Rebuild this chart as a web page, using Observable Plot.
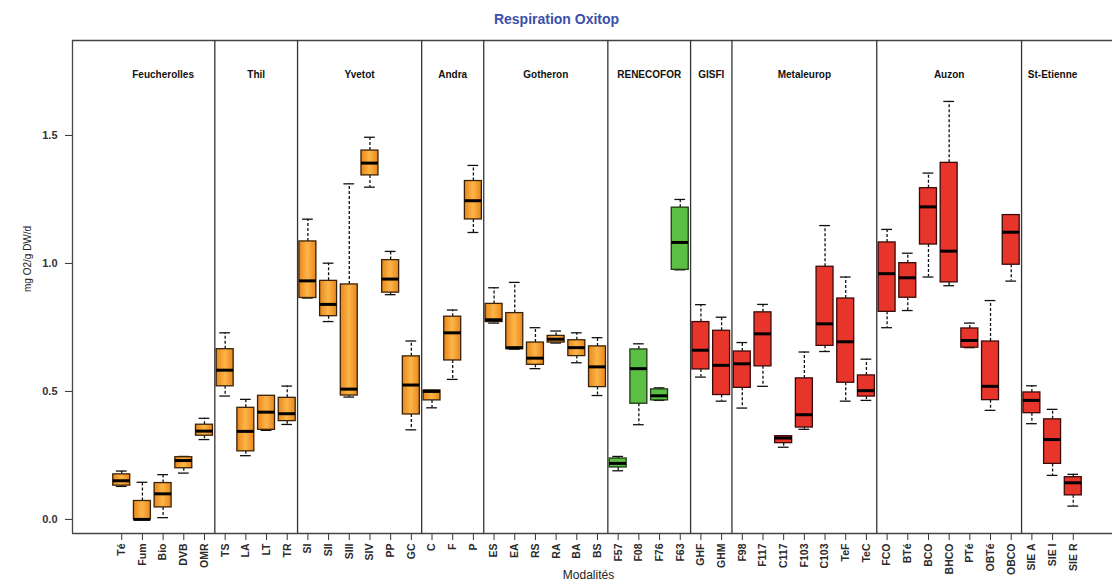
<!DOCTYPE html>
<html><head><meta charset="utf-8">
<script src="https://cdn.jsdelivr.net/npm/d3@7"></script>
<script src="https://cdn.jsdelivr.net/npm/@observablehq/plot@0.6"></script>
<style>body{margin:0;background:#fff;}</style>
</head><body><div id="chart"></div>
<script>
const groups = ["Feucherolles","Thil","Yvetot","Andra","Gotheron","RENECOFOR","GISFI","Metaleurop","Auzon","St-Etienne"];
const groupSizes = [5,4,6,3,6,4,2,7,7,3];
const groupColors = ["orange","orange","orange","orange","orange","green","red","red","red","red"];
const modalites = ["Té","Fum","Bio","DVB","OMR","TS","LA","LT","TR","SI","SII","SIII","SIV","PP","GC","C","F","P","ES","EA","RS","RA","BA","BS","F57","F08","F76","F63","GHF","GHM","F98","F117","C117","F103","C103","TeF","TeC","FCO","BTé","BCO","BHCO","PTé","OBTé","OBCO","SIE A","SIE I","SIE R"];
const whiskerLow = [0.129,0.0,0.007,0.181,0.312, 0.482,0.249,0.348,0.371, 0.865,0.773,0.478,1.298,0.878,0.350, 0.436,0.547,1.121, 0.767,0.665,0.589,0.689,0.612,0.484, 0.19,0.370,0.465,0.975, 0.556,0.462, 0.435,0.520,0.282,0.352,0.656,0.462,0.465, 0.749,0.816,0.947,0.913,0.671,0.426,0.931, 0.374,0.172,0.052];
const q1 = [0.132,0.0,0.047,0.200,0.327, 0.520,0.266,0.350,0.384, 0.865,0.794,0.484,1.344,0.886,0.410, 0.465,0.621,1.172, 0.771,0.665,0.604,0.691,0.638,0.517, 0.203,0.452,0.465,0.975, 0.586,0.486, 0.514,0.598,0.298,0.359,0.678,0.534,0.480, 0.811,0.866,1.074,0.926,0.671,0.466,0.995, 0.415,0.217,0.094];
const median = [0.151,0.0,0.10,0.230,0.345, 0.583,0.344,0.419,0.413, 0.932,0.840,0.509,1.392,0.939,0.525, 0.50,0.729,1.245, 0.780,0.671,0.630,0.704,0.671,0.596, 0.219,0.589,0.483,1.082, 0.661,0.602, 0.608,0.725,0.318,0.409,0.764,0.694,0.503, 0.960,0.944,1.221,1.048,0.699,0.520,1.122, 0.465,0.312,0.143];
const q3 = [0.176,0.072,0.142,0.243,0.370, 0.665,0.436,0.483,0.475, 1.086,0.932,0.918,1.441,1.013,0.637, 0.504,0.792,1.322, 0.842,0.806,0.691,0.717,0.700,0.676, 0.238,0.664,0.508,1.218, 0.771,0.737, 0.656,0.809,0.325,0.551,0.987,0.863,0.5625, 1.082,1.001,1.294,1.393,0.746,0.695,1.189, 0.496,0.391,0.165];
const whiskerHigh = [0.189,0.145,0.175,0.246,0.395, 0.729,0.469,0.483,0.521, 1.173,1.001,1.311,1.493,1.047,0.697, 0.504,0.818,1.383, 0.905,0.926,0.749,0.736,0.729,0.710, 0.246,0.686,0.514,1.25, 0.839,0.790, 0.691,0.840,0.325,0.654,1.148,0.947,0.626, 1.133,1.040,1.353,1.633,0.767,0.855,1.189, 0.522,0.430,0.176];
const yTicks = [0, 0.5, 1.0, 1.5];

// build table
const rows = [];
const centers = [];
const boundaries = [];
let pos = 1;
groups.forEach((g, gi) => {
  const start = pos;
  for (let j = 0; j < groupSizes[gi]; j++) {
    const i = pos - 1;
    rows.push({pos, name: modalites[i], lo: whiskerLow[i], q1: q1[i], med: median[i], q3: q3[i], hi: whiskerHigh[i], color: groupColors[gi]});
    pos++;
  }
  centers.push((start + pos - 1) / 2);
  if (gi < groups.length - 1) boundaries.push(pos - 0.5);
});

const n = modalites.length;
const xDomain = [0.5 - 0.04 * n, n + 0.5 + 0.04 * n];
const yDomain = [-0.055, 1.871];
const BW = 0.41, CW = 0.26;
const fills = {orange: "url(#orangeGrad)", green: "#5cbf45", red: "#e8352b"};
const strokes = {orange: "#3a2208", green: "#1e3a12", red: "#3a0a08"};

const boxMarks = Object.keys(fills).map(c => Plot.rect(rows.filter(d => d.color === c), {
  x1: d => d.pos - BW, x2: d => d.pos + BW, y1: "q1", y2: "q3",
  fill: fills[c], stroke: strokes[c], strokeWidth: 1.3
}));

const plot = Plot.plot({
  width: 1112, height: 585,
  marginLeft: 72, marginRight: 0, marginTop: 40, marginBottom: 52,
  style: {fontFamily: "'Liberation Sans', Arial, sans-serif", background: "#fff", color: "#222"},
  x: {type: "linear", domain: xDomain, range: [72, 1122]},
  y: {domain: yDomain},
  marks: [
    Plot.axisX({ticks: d3.range(1, n + 1), tickFormat: i => modalites[i - 1], tickRotate: -90, tickSize: 7, tickPadding: 3, fontSize: 10.5, fontWeight: "bold", label: null, stroke: "#333", fill: "#2a2a2a"}),
    Plot.axisY({ticks: yTicks, tickFormat: d3.format(".1f"), tickSize: 7, tickPadding: 8, fontSize: 11, fontWeight: "bold", label: null, stroke: "#333", fill: "#333"}),
    Plot.ruleY([yDomain[1], yDomain[0]], {stroke: "#444", strokeWidth: 1.3}),
    Plot.ruleX([xDomain[0]], {stroke: "#444", strokeWidth: 1.3}),
    Plot.ruleX(boundaries, {stroke: "#333", strokeWidth: 1.3}),
    Plot.ruleX(rows, {x: "pos", y1: "q3", y2: "hi", stroke: "#111", strokeWidth: 1.3, strokeDasharray: "3,2"}),
    Plot.ruleX(rows, {x: "pos", y1: "q1", y2: "lo", stroke: "#111", strokeWidth: 1.3, strokeDasharray: "3,2"}),
    Plot.ruleY(rows, {y: "hi", x1: d => d.pos - CW, x2: d => d.pos + CW, stroke: "#111", strokeWidth: 1.3}),
    Plot.ruleY(rows, {y: "lo", x1: d => d.pos - CW, x2: d => d.pos + CW, stroke: "#111", strokeWidth: 1.3}),
    ...boxMarks,
    Plot.ruleY(rows, {y: "med", x1: d => d.pos - BW, x2: d => d.pos + BW, stroke: "#000", strokeWidth: 3}),
    Plot.text(groups, {x: (d, i) => centers[i], frameAnchor: "top", dy: 30, fontWeight: "bold", fontSize: 10, fill: "#111"}),
    Plot.text(["Respiration Oxitop"], {frameAnchor: "top", dx: -36, dy: -26, fill: "#3b4fa8", fontWeight: "bold", fontSize: 14}),
    Plot.text(["mg O2/g DW/d"], {frameAnchor: "left", dx: -45, dy: 5, rotate: -90, fontSize: 10, fill: "#222"}),
    Plot.text(["Modalités"], {frameAnchor: "bottom", dx: -4, dy: 45, fontSize: 12, fill: "#222"})
  ]
});

const ns = "http://www.w3.org/2000/svg";
const defs = document.createElementNS(ns, "defs");
const grad = document.createElementNS(ns, "linearGradient");
grad.setAttribute("id", "orangeGrad");
grad.setAttribute("x1", "0"); grad.setAttribute("y1", "0");
grad.setAttribute("x2", "1"); grad.setAttribute("y2", "0");
[["0%", "#e8871c"], ["50%", "#fdb548"], ["100%", "#e8871c"]].forEach(([o, c]) => {
  const s = document.createElementNS(ns, "stop");
  s.setAttribute("offset", o); s.setAttribute("stop-color", c);
  grad.appendChild(s);
});
defs.appendChild(grad);
plot.insertBefore(defs, plot.firstChild);
document.getElementById("chart").appendChild(plot);
</script>
</body></html>
